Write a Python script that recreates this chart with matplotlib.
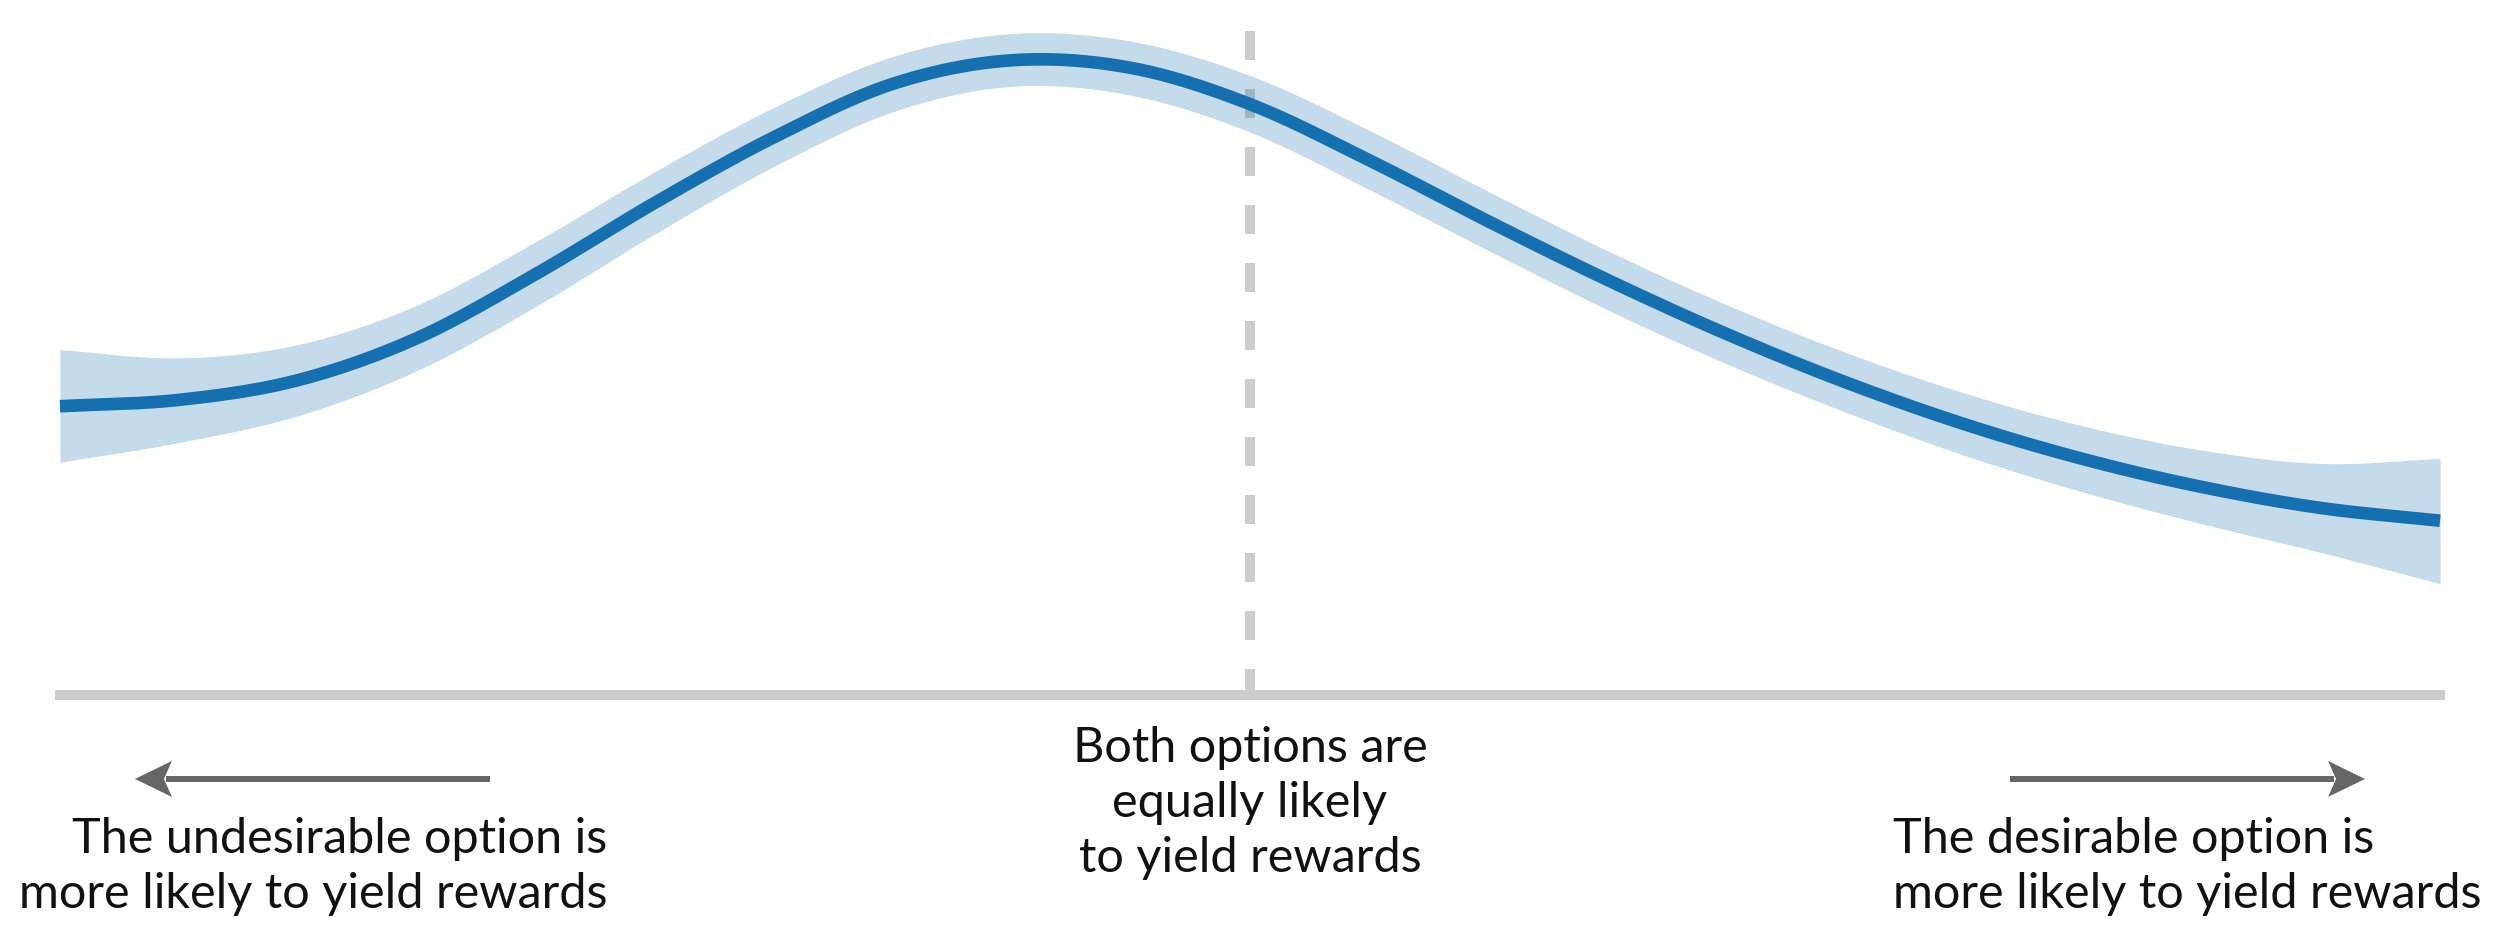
import numpy as np
import matplotlib
matplotlib.use("Agg")
import matplotlib.pyplot as plt
from matplotlib.patches import Polygon

# ---- data ----
evidence = list(range(-10, 11))
mean_curve = [45.4, 46.4, 49.5, 56.1, 66.2, 77.4, 87.7, 96.1, 99.8, 98.6, 92.9,
              84.1, 74.5, 65.3, 56.8, 49.2, 42.6, 37.1, 32.7, 29.4, 27.4]
upper_band = [54.3, 53.0, 55.1, 61.3, 71.3, 82.3, 92.4, 100.4, 104.0, 102.8, 97.4,
              88.8, 79.2, 69.9, 61.4, 53.9, 47.5, 42.3, 38.5, 36.4, 37.2]
lower_band = [36.6, 39.7, 43.9, 51.0, 61.1, 72.5, 83.1, 91.7, 95.7, 94.3, 88.5,
              79.5, 69.9, 60.6, 52.1, 44.5, 37.7, 31.9, 26.9, 22.4, 17.5]
left_label = ["The undesirable option is", "more likely to yield rewards"]
center_label = ["Both options are", "equally likely", "to yield rewards"]
right_label = ["The desirable option is", "more likely to yield rewards"]

# ---- style ----
LINE_COLOR = "#1670b0"
GRAY = "#cccccc"
ARROW_GRAY = "#666666"
FONT = ["Lato", "DejaVu Sans"]
FS = 35


def smooth(x, y, n=24):
    """Cubic Hermite (Catmull-Rom) rendering of the read points."""
    x = np.asarray(x, float)
    y = np.asarray(y, float)
    m = np.gradient(y, x)
    xs, ys = [], []
    for i in range(len(x) - 1):
        h = x[i + 1] - x[i]
        t = np.linspace(0, 1, n, endpoint=False)
        h00 = 2 * t**3 - 3 * t**2 + 1
        h10 = t**3 - 2 * t**2 + t
        h01 = -2 * t**3 + 3 * t**2
        h11 = t**3 - t**2
        xs.append(x[i] + t * h)
        ys.append(h00 * y[i] + h10 * h * m[i] + h01 * y[i + 1] + h11 * h * m[i + 1])
    xs.append([x[-1]])
    ys.append([y[-1]])
    return np.concatenate(xs), np.concatenate(ys)


fig = plt.figure(figsize=(25, 9.28), dpi=100)
ax = fig.add_axes([0, 0, 1, 1])
ax.set_xlim(-10.504, 10.504)
ax.set_ylim(-36.48, 109.43)
ax.set_axis_off()

xs, ms = smooth(evidence, mean_curve)
_, us = smooth(evidence, upper_band)
_, ls = smooth(evidence, lower_band)

# dashed midline
ax.plot([0, 0], [104.4, 0], color=GRAY, lw=7.2, dashes=(2.9, 2.9),
        solid_capstyle="butt", dash_capstyle="butt", zorder=1)
# baseline
ax.plot([-10.04, 10.04], [0, 0], color=GRAY, lw=7.2,
        solid_capstyle="butt", zorder=1.5)
# band and curve
ax.fill_between(xs, ls, us, color=LINE_COLOR, alpha=0.25, lw=0, zorder=2)
ax.plot(xs, ms, color=LINE_COLOR, lw=9.1, solid_capstyle="butt", zorder=3)


def draw_arrow(x_tail, x_tip, y):
    """Shaft plus a concave (stealth) head, head size given in pixels."""
    to_disp = ax.transData.transform
    to_data = ax.transData.inverted().transform
    tip = to_disp((x_tip, y))
    d = 1.0 if x_tail > x_tip else -1.0
    head_len, notch, half_w = 37.0, 29.0, 18.0
    pts = [tip,
           tip + [d * head_len, half_w],
           tip + [d * notch, 0.0],
           tip + [d * head_len, -half_w]]
    ax.add_patch(Polygon(to_data(np.array(pts)), closed=True,
                         facecolor=ARROW_GRAY, edgecolor="none", zorder=4))
    notch_x = to_data(tip + [d * notch + d * 2, 0.0])[0]
    ax.plot([x_tail, notch_x], [y, y], color=ARROW_GRAY, lw=4.3,
            solid_capstyle="butt", zorder=4)


draw_arrow(-6.39, -9.37, -13.2)
draw_arrow(6.39, 9.37, -13.2)

# texts
for line, y in zip(left_label, [-24.7, -33.3]):
    ax.text(-5.40, y, line, ha="right", va="baseline", fontsize=FS,
            family=FONT, color="#111111")
for line, y in zip(right_label, [-24.7, -33.3]):
    ax.text(5.40, y, line, ha="left", va="baseline", fontsize=FS,
            family=FONT, color="#111111")
for line, y in zip(center_label, [-10.38, -19.03, -27.67]):
    ax.text(0, y, line, ha="center", va="baseline", fontsize=FS,
            family=FONT, color="#111111")

fig.savefig("out.png", dpi=100, facecolor="white")
